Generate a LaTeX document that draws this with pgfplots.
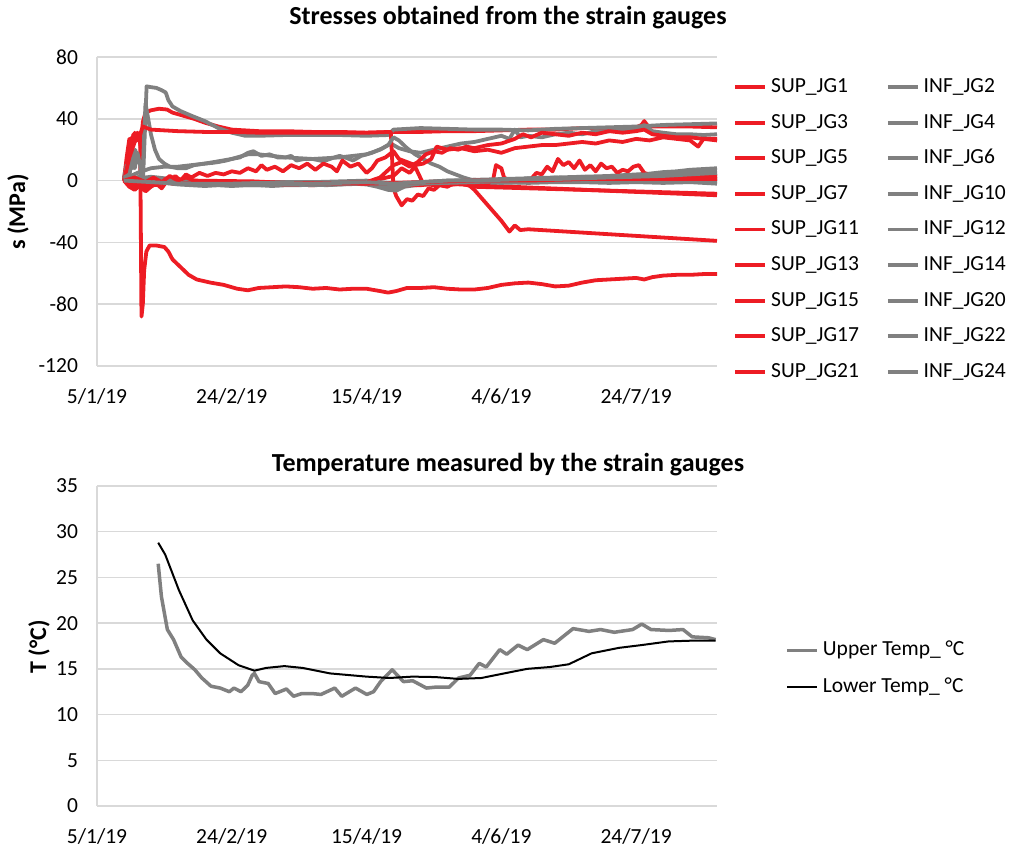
\documentclass[border=0pt]{standalone}
\usepackage{fontspec}
\setmainfont{Carlito}
\usepackage{pgfplots}
\pgfplotsset{compat=1.18}
\definecolor{xred}{RGB}{237,28,36}
\definecolor{xgray}{RGB}{128,128,128}
\definecolor{xgrid}{RGB}{217,217,217}
\pgfplotsset{
 excel/.style={
  scale only axis, width=310pt,
  xmin=0, xmax=230,
  xtick={0,50,100,150,200},
  xticklabels={5/1/19,24/2/19,15/4/19,4/6/19,24/7/19},
  axis x line*=bottom, axis y line*=left,
  axis line style={draw=xgrid, line width=0.75pt, -},
  major tick length=0pt,
  ymajorgrids, grid style={draw=xgrid, line width=0.75pt},
  tick label style={font=\fontsize{10.75}{12}\selectfont, text=black},
  xticklabel style={yshift=-8pt},
  yticklabel style={xshift=-6pt},
  legend columns=2,
  legend cell align=left,
  legend image code/.code={\draw[##1] (0pt,0pt) -- (15pt,0pt);},
 },
 R/.style={xred, line width=1.9pt, line join=round},
 G/.style={xgray, line width=1.9pt, line join=round},
}
\begin{document}
\begin{tikzpicture}
\path[use as bounding box] (0,0) rectangle (506.5pt,-424.5pt);
\node[font=\bfseries\fontsize{13}{15}\selectfont] at (254pt,-9pt) {Stresses obtained from the strain gauges};
\node[font=\bfseries\fontsize{12}{14}\selectfont, rotate=90] at (9pt,-106pt) {s (MPa)};
\node[font=\bfseries\fontsize{13}{15}\selectfont] at (254pt,-232.5pt) {Temperature measured by the strain gauges};
\node[font=\bfseries\fontsize{12}{14}\selectfont, rotate=90] at (19.5pt,-323.5pt) {T (°C)};

\begin{axis}[excel, at={(48.5pt,-183pt)}, anchor=south west, height=154.5pt,
  ymin=-120, ymax=80, ytick={-120,-80,-40,0,40,80},
  yticklabels={-120,-80,-40,0,40,80},
  legend style={at={(rel axis cs:1.0258,0.938)}, anchor=north west, draw=none, fill=none, inner sep=0pt,
    font=\fontsize{10.75}{12}\selectfont, row sep=7.3pt,
    nodes={inner ysep=0pt, inner xsep=2pt, text height=8pt, text depth=2.5pt},
    /tikz/every even column/.append style={column sep=11.5pt}},
]
% SUP_JG1
\addplot[R] coordinates {(10,0)(11,8)(12,22)(13,28)(13.5,24)(14,31)(14.8,26)(15.5,30)(16.3,20)(17,38)(18,44)(20,45.5)(23,46.5)(26,46)(28,44)(32,42)(36,40)(40,37.5)(45,35)(50,33)(55,32.5)(60,32)(70,32)(80,31.5)(90,31.5)(100,31)(110,31.5)(120,31.5)(130,32)(140,32)(150,32.5)(160,33)(170,33)(180,34)(190,34)(200,34.5)(202,36)(203,38.5)(204.5,35)(210,35)(220,35)(230,34.5)};
\addlegendentry{SUP\_JG1}
% INF_JG2
\addplot[G] coordinates {(10,2)(11,12)(11.7,5)(12.5,18)(13.3,8)(14.2,20)(15,12)(16,17)(17,-3)(17.5,20)(18.4,61)(20,60.5)(22,60)(24,58.5)(25.5,57)(26.5,52)(28,48)(31,45)(35,42)(40,38.5)(45,34)(50,31)(55,29)(60,29)(70,29.5)(80,29.5)(90,29.5)(100,29)(108,29.5)(110,33)(115,33.5)(120,34)(130,33.5)(140,33)(150,33)(160,32.5)(170,33.5)(180,34)(190,34.5)(200,35)(210,36)(220,36.5)(230,37)};
\addlegendentry{INF\_JG2}
% SUP_JG3
\addplot[R] coordinates {(10,0)(11,15)(12,27)(12.8,22)(13.5,30)(14.2,26)(15,31)(16,28)(16.5,-88)(17,-80)(17.5,-58)(18.3,-46)(19.5,-42)(22,-42)(25,-43)(26.5,-46)(28,-51)(31,-56)(34,-61)(37,-64)(42,-66)(47,-67.5)(52,-70)(56,-71)(60,-69.5)(65,-69)(70,-68.5)(75,-69)(80,-70)(85,-69.5)(90,-70.5)(95,-70)(100,-70)(105,-71.5)(108,-72.5)(111,-71.5)(115,-69.5)(120,-69.5)(125,-69)(130,-70)(135,-70.5)(140,-70.5)(145,-69.5)(150,-67.5)(155,-66.5)(160,-66)(165,-67)(170,-68.5)(175,-68)(180,-66)(185,-64.5)(190,-64)(195,-63.5)(200,-63)(203,-64)(206,-62.5)(210,-61.5)(215,-61)(220,-61)(225,-60.5)(230,-60.5)};
\addlegendentry{SUP\_JG3}
% INF_JG4
\addplot[G] coordinates {(10,0)(11,10)(12,3)(13,15)(14,8)(15,18)(16,10)(16.8,-4)(17.5,30)(18,50)(19,40)(20,30)(21.5,20)(23,14)(25,11)(27,9)(30,8)(33,8)(36,10)(40,11)(43,11.5)(45,12)(48,13)(50,14)(53,15)(56,18)(58,19)(61,16)(64,17)(67,15)(70,15)(72,16)(74,13)(77,14)(80,14)(84,12.5)(88,15)(90,16)(92,15)(95,13)(98,16)(100,17)(102,18)(106,21)(109,24)(112,21)(116,19)(120,18)(125,20)(130,22)(135,24)(140,25)(145,27)(150,29)(153,27)(155,33)(157,28)(160,29)(165,28)(170,30)(175,31)(180,30)(185,32)(190,32)(195,33)(200,33)(203,36)(206,32)(210,31)(215,30)(220,30)(225,29.5)(230,30)};
\addlegendentry{INF\_JG4}
% SUP_JG5
\addplot[R] coordinates {(10,0)(12,15)(14,25)(16,30)(17,35)(20,33)(30,32)(40,31.5)(50,31.5)(60,31)(70,31)(80,31)(90,31)(100,31)(109,31.5)(110,-5)(111,-10)(113,-16)(115,-12)(117,-13)(119,-9)(121,-10)(123,-5)(125,-6)(127,-3)(130,-4)(133,-1)(136,0)(140,-6)(145,-16)(150,-26)(153,-33)(155,-29)(157,-32)(160,-31.5)(230,-39)};
\addlegendentry{SUP\_JG5}
% INF_JG6
\addplot[G] coordinates {(10,1)(15,5)(20,8)(25,9)(30,9)(40,11)(50,14)(56,17)(60,17)(70,15)(80,14)(90,15)(100,17)(105,20)(108,23)(110,28)(112,26)(115,21)(118,17)(121,14)(124,11)(127,9)(130,6)(133,4)(136,2)(140,0)(145,-1)(150,-1)(160,-1)(170,-0.5)(180,0)(190,0)(200,0)(210,1)(220,0)(230,0)};
\addlegendentry{INF\_JG6}
% SUP_JG7
\addplot[R] coordinates {(10,1)(12,-2)(14,-4)(16,-2)(18,-5)(20,-1)(22,-3)(25,-1)(28,-1)(58,-1)(60,-2)(80,-2.5)(100,-2)(120,-2)(130,-2)(140,-3)(230,-9.5)};
\addlegendentry{SUP\_JG7}
% INF_JG10
\addplot[G] coordinates {(10,2)(12,4)(14,1)(16,3)(18,2)(20,2.5)(25,1.5)(30,0.5)(35,-0.5)(40,-1)(45,-1.5)(50,-2)(55,-1.5)(60,-2.5)(65,-2)(70,-2.5)(75,-1.5)(80,-2)(85,-1.5)(90,-1)(95,-1.5)(100,-1)(105,-2.5)(110,-5)(113,-4)(116,-2.5)(120,-2)(125,-1)(130,-1.5)(135,0)(140,0.5)(145,0)(150,1)(155,0.5)(160,1.5)(165,1)(170,2)(175,1.5)(180,2.5)(185,2)(190,3)(195,3.5)(200,4)(205,4.5)(210,5.5)(215,6)(220,7)(225,7.5)(230,8)};
\addlegendentry{INF\_JG10}
% SUP_JG11
\addplot[R] coordinates {(10,0)(13,-3)(15,-2)(17,-6)(19,-4)(21,-1)(23,-3)(25,1)(27,-1)(29,3)(31,0)(33,4)(35,2)(38,5)(41,3)(44,5)(47,4)(50,6)(53,5)(56,8)(59,6)(61,10)(63,7)(66,9)(69,6)(72,10)(75,8)(78,11)(81,7)(84,11)(87,9)(89,6)(91,13)(94,9)(97,11)(100,5)(102,8)(104,13)(107,15)(110,19)(112,14)(115,12)(118,10)(121,11)(124,14)(126,22)(130,20)(135,21)(140,19)(145,20)(150,18)(155,21)(160,22)(165,23)(170,23)(175,24)(180,25)(185,24)(190,26)(195,25)(200,27)(205,26)(210,28)(215,27)(220,26)(223,22)(225,27)(230,26)};
\addlegendentry{SUP\_JG11}
% INF_JG12
\addplot[G] coordinates {(10,0)(13,2)(16,1)(19,0)(22,-1)(25,-1.5)(30,-2.5)(35,-3)(40,-3.5)(45,-3)(50,-3.5)(55,-3)(60,-3)(65,-3.5)(70,-3)(75,-3)(80,-2.5)(85,-3)(90,-2.5)(95,-2)(100,-2.5)(104,-4)(108,-6)(111,-6.5)(114,-4)(118,-3)(122,-2.5)(126,-2)(130,-2)(135,-1.5)(140,-1)(150,-1.5)(160,-1)(170,-0.5)(180,0)(190,0.5)(200,1)(205,1.5)(210,2)(215,3)(220,3)(225,3.5)(230,4)};
\addlegendentry{INF\_JG12}
% SUP_JG13
\addplot[R] coordinates {(10,0)(12,-4)(14,-6)(16,-3)(18,-7)(20,-4)(22,-2)(24,-5)(26,0)(28,-2)(30,1)(33,-1)(36,0)(40,-1)(60,-1)(80,-2)(100,-1)(110,3)(113,8)(116,5)(118,9)(121,-2)(125,-3)(130,-1)(135,-1)(140,-1)(145,-2)(147,1)(148,10)(150,8)(151,2)(153,0)(158,-1)(161,1)(163,5)(165,4)(167,9)(169,6)(171,14)(173,10)(175,12)(177,8)(179,13)(181,7)(183,10)(185,6)(187,11)(189,8)(191,9)(193,5)(195,7)(197,6)(199,9)(201,10)(203,5)(206,3)(210,3)(215,4)(220,3)(225,3)(230,3)};
\addlegendentry{SUP\_JG13}
% INF_JG14
\addplot[G] coordinates {(10,1)(15,0)(20,0.5)(30,-1)(40,-2)(50,-2.5)(60,-2)(70,-2)(80,-1.5)(90,-1.5)(100,-1)(105,-2)(110,-3)(115,-2)(120,-1.5)(130,-1)(140,-0.5)(150,-1)(160,-1.5)(170,-1)(180,-1)(190,-1.5)(200,-1)(210,-1.5)(220,-1)(230,-2)};
\addlegendentry{INF\_JG14}
% SUP_JG15
\addplot[R] coordinates {(10,0)(15,-3)(20,-2)(25,0)(30,-1)(40,-1)(50,-2)(60,-2)(70,-2.5)(80,-3)(90,-2)(100,-2)(110,-3)(120,-3)(125,-2)(130,-3)(135,-2)(140,-4)(230,-8.5)};
\addlegendentry{SUP\_JG15}
% INF_JG20
\addplot[G] coordinates {(10,2)(15,2)(20,1)(30,0)(40,-1)(50,-1.5)(60,-1)(70,-1)(80,-1)(90,-0.5)(100,0)(105,-1)(110,-2)(115,-1.5)(120,-1)(130,0)(140,0.5)(150,1)(160,1.5)(170,2)(180,2.5)(190,3)(200,3.5)(210,5)(220,5.5)(230,6)};
\addlegendentry{INF\_JG20}
% SUP_JG17
\addplot[R] coordinates {(10,0)(20,-1)(40,-2)(60,-2)(80,-2)(100,-1)(105,2)(110,10)(113,12)(116,9)(119,12)(122,17)(125,19)(128,18)(131,21)(134,20)(137,22)(140,21)(145,23)(150,24)(155,27)(158,30)(161,28)(165,31)(170,30)(175,29)(180,31)(185,30)(190,32)(195,31)(200,32)(203,33)(206,30)(210,29)(215,28)(220,28)(225,27)(230,27)};
\addlegendentry{SUP\_JG17}
% INF_JG22
\addplot[G] coordinates {(10,1)(20,0)(30,-1.5)(40,-2.5)(50,-3)(60,-3)(70,-2.5)(80,-3)(90,-2.5)(100,-2)(110,-4)(120,-2)(130,-1.5)(140,-1)(150,0)(160,0)(170,0.5)(180,0)(190,0.5)(200,0)(210,0.5)(220,1)(230,1)};
\addlegendentry{INF\_JG22}
% SUP_JG21
\addplot[R] coordinates {(10,0)(14,2)(18,-1)(21,2)(24,-1)(27,3)(30,0)(33,2)(36,0)(58,-0.5)(70,-1.5)(100,-2)(120,-1)(140,0)(160,0)(180,1)(200,1)(230,1)};
\addlegendentry{SUP\_JG21}
% INF_JG24
\addplot[G] coordinates {(10,0)(20,-1)(30,-2)(40,-2)(50,-2)(60,-1.5)(70,-1.5)(80,-2)(90,-1.5)(100,-1)(110,-2)(120,-1)(130,0)(140,0)(150,0.5)(160,1)(170,1)(180,1.5)(190,2)(200,2.5)(210,3)(220,4)(230,5)};
\addlegendentry{INF\_JG24}
\end{axis}

\begin{axis}[excel, at={(48.5pt,-403pt)}, anchor=south west, height=160pt,
  ymin=0, ymax=35, ytick={0,5,10,15,20,25,30,35},
  yticklabels={0,5,10,15,20,25,30,35},
  legend style={at={(rel axis cs:1.1097,0.52)}, anchor=north west, draw=none, fill=none, inner sep=0pt,
    font=\fontsize{10.75}{12}\selectfont, row sep=8pt,
    nodes={inner ysep=0pt, inner xsep=2pt, text height=8pt, text depth=2.5pt}},
  legend columns=1,
]
\addplot[xgray, line width=1.75pt, line join=round] coordinates {(22.7,26.5)(23.9,22.9)(26.1,19.3)(28.4,18.2)(31.2,16.3)(33.6,15.6)(36.3,14.9)(38.9,14.0)(42.3,13.1)(45.7,12.9)(49.1,12.5)(50.8,12.9)(53.4,12.5)(55.9,13.2)(57.6,14.3)(58.4,14.5)(60.1,13.6)(63.5,13.4)(66.1,12.3)(70.3,12.8)(72.9,12.0)(76,12.3)(79.7,12.3)(83.1,12.2)(88.2,12.9)(90.8,12.0)(95.9,12.9)(100.1,12.2)(102.6,12.5)(105.2,13.6)(109.5,14.9)(113.7,13.6)(117.1,13.7)(122.2,12.9)(125.6,13.0)(130.7,13.0)(134.1,14.0)(138.4,14.3)(141.8,15.6)(144.4,15.2)(149.4,17.1)(152,16.6)(156.2,17.6)(159.6,17.1)(165.6,18.2)(169.8,17.8)(176.6,19.4)(182.5,19.1)(186.8,19.3)(191.9,19.0)(198.7,19.3)(202.1,19.9)(205.5,19.3)(212.3,19.2)(217.4,19.3)(220.8,18.5)(226.8,18.4)(229.5,18.2)};
\addlegendentry{Upper Temp\_ °C}
\addplot[black, line width=1pt, line join=round] coordinates {(22.7,28.8)(25.3,27.5)(30.4,23.6)(35.5,20.3)(40.6,18.2)(45.7,16.7)(52.5,15.4)(58.4,14.8)(62.7,15.1)(69.5,15.3)(76.3,15.1)(86.5,14.5)(100,14.15)(108.5,14.0)(117,14.15)(125.6,14.1)(134,13.9)(142.6,14.0)(151,14.5)(159.6,15.0)(168,15.2)(175,15.5)(183.5,16.7)(193.7,17.3)(202,17.6)(212,18.0)(222.5,18.1)(229.5,18.1)};
\addlegendentry{Lower Temp\_ °C}
\end{axis}
\end{tikzpicture}
\end{document}
